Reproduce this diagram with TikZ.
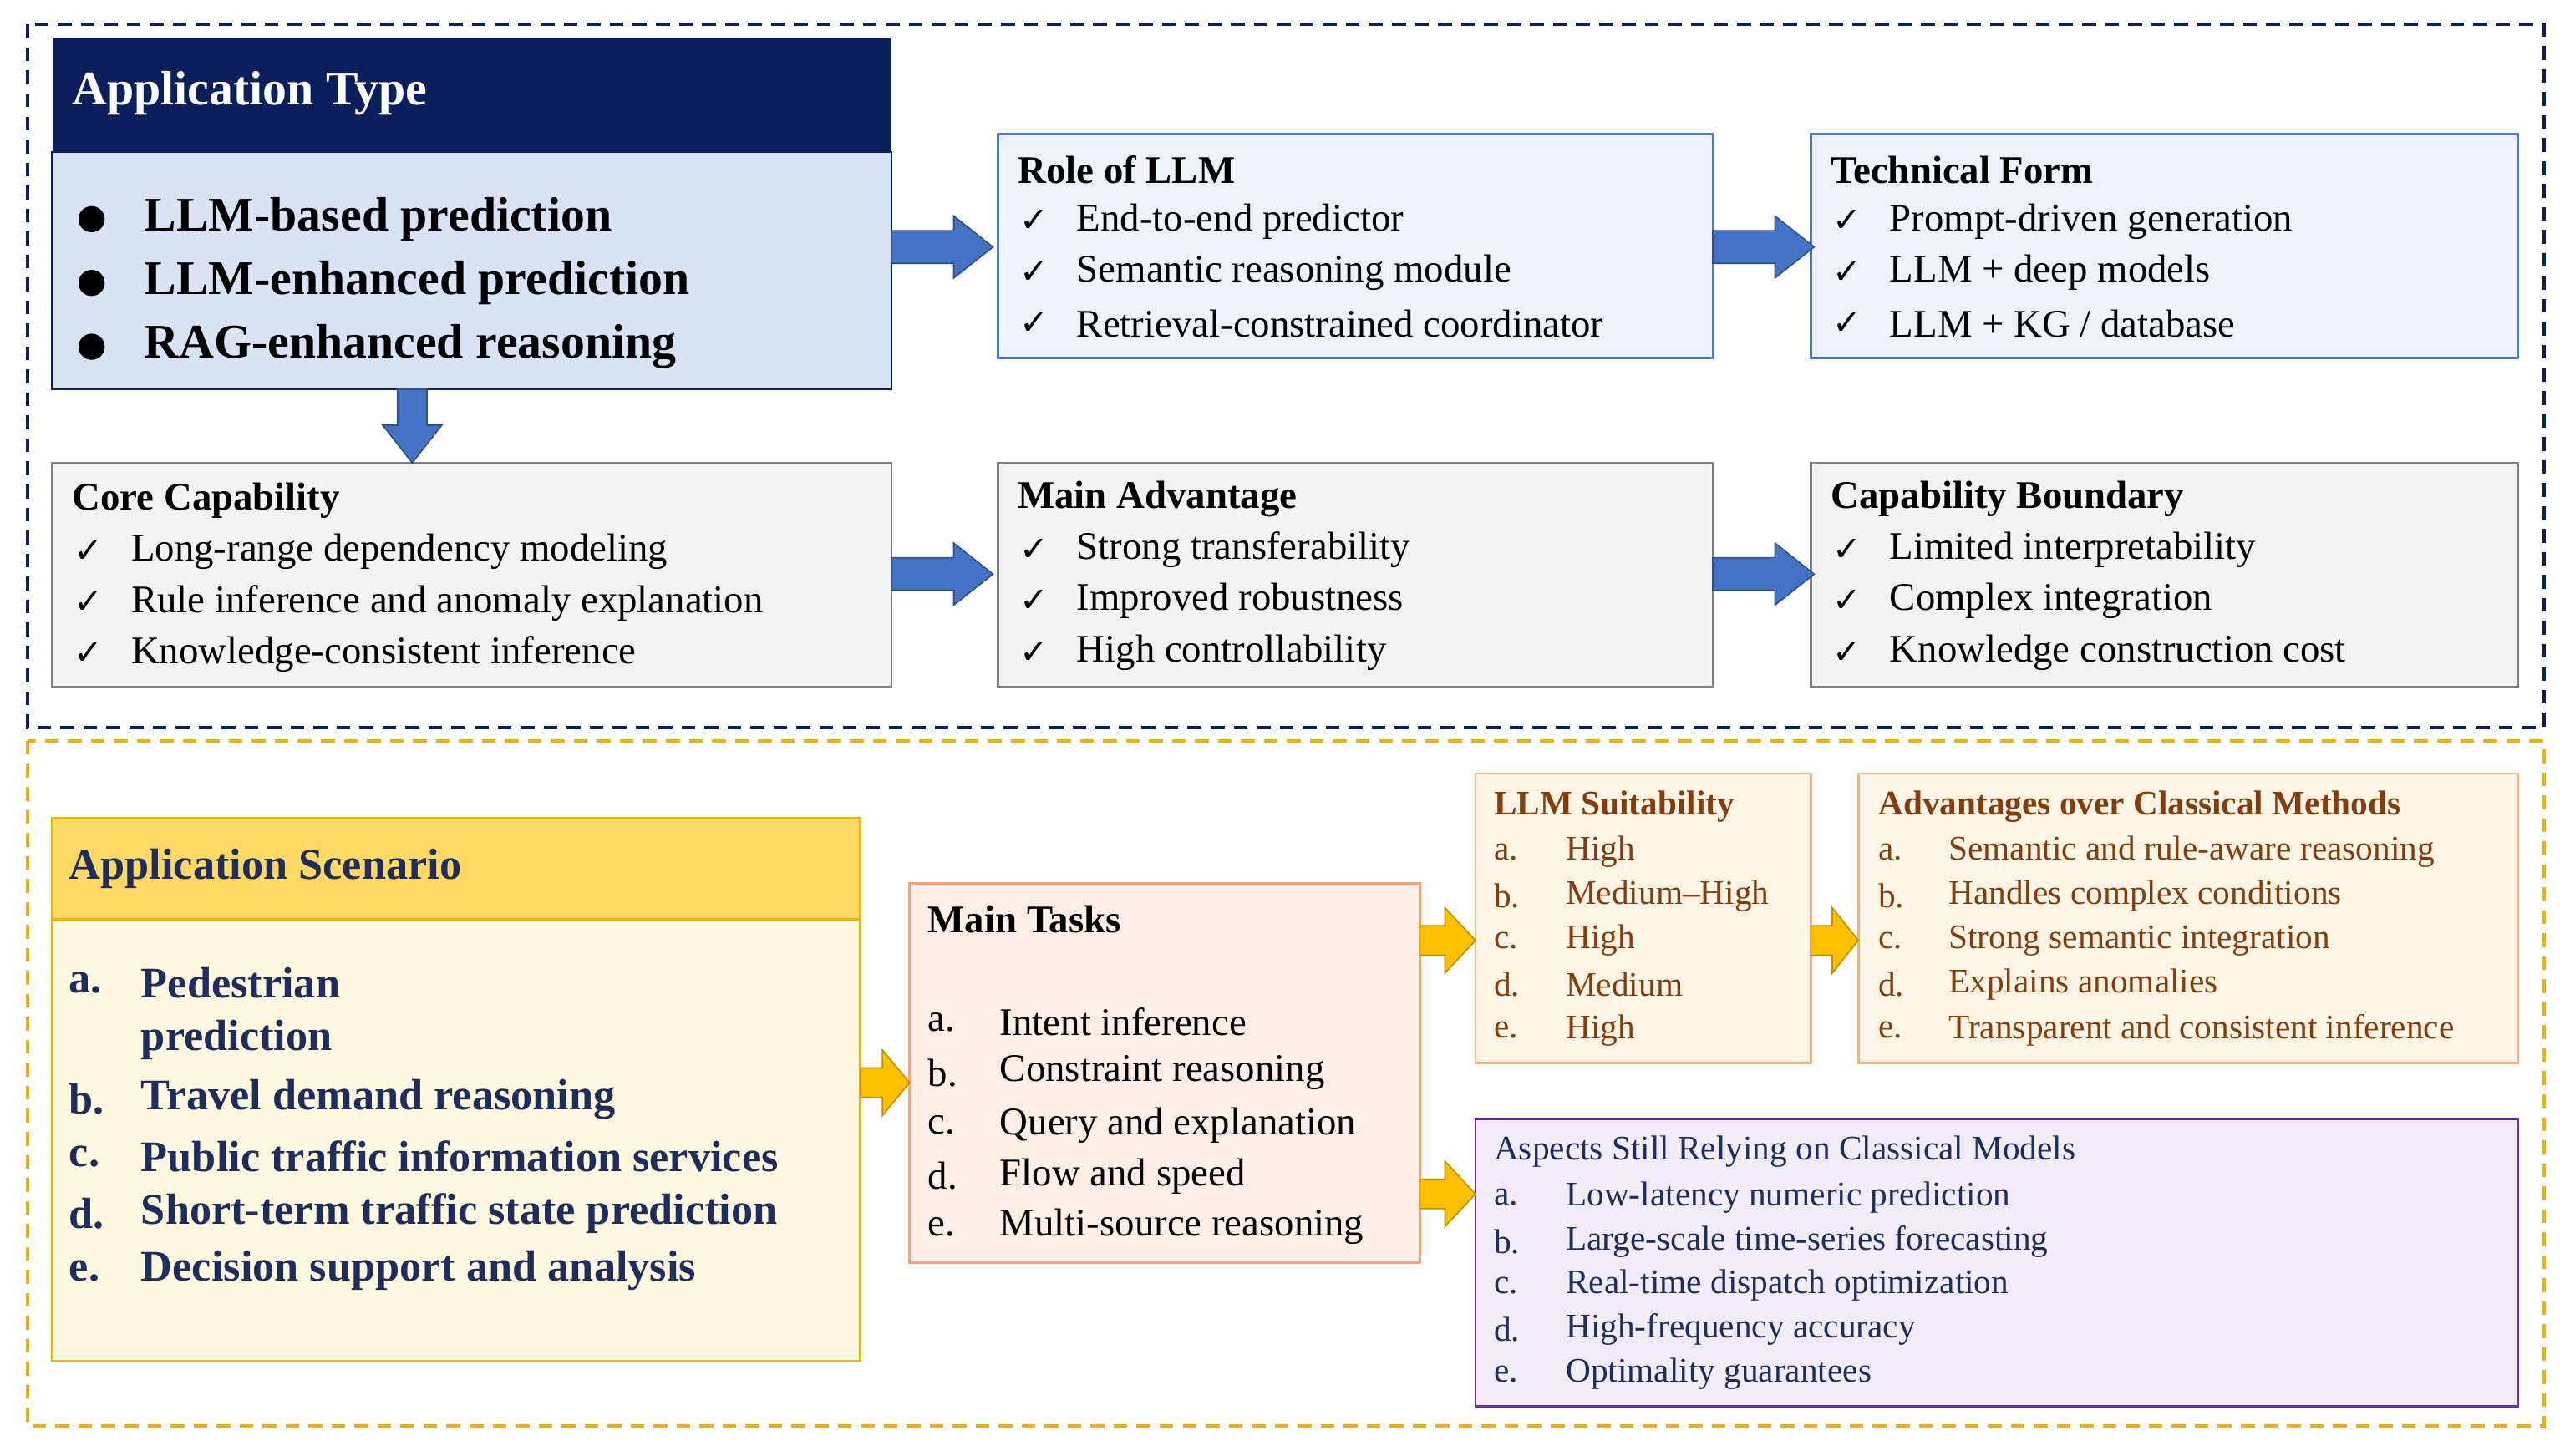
\documentclass[tikz,border=0pt]{standalone}
\usepackage{fontspec}
\setmainfont{Liberation Serif}
\newfontfamily\djv{DejaVu Sans}
\begin{document}
\definecolor{navy}{HTML}{0A1F5C}
\definecolor{lblue}{HTML}{DAE3F3}
\definecolor{pblue}{HTML}{EEF3FB}
\definecolor{bblue}{HTML}{4A7CC9}
\definecolor{arrb}{HTML}{4472C4}
\definecolor{lgray}{HTML}{F2F2F2}
\definecolor{gold}{HTML}{FFD966}
\definecolor{golde}{HTML}{F0B400}
\definecolor{cream}{HTML}{FFF8E1}
\definecolor{peach}{HTML}{FDEEE6}
\definecolor{peache}{HTML}{F4A27A}
\definecolor{lorange}{HTML}{FFF5E6}
\definecolor{orangee}{HTML}{F4B183}
\definecolor{brown}{HTML}{843C0C}
\definecolor{lpurple}{HTML}{F2ECF8}
\definecolor{purple}{HTML}{7030A0}
\definecolor{tnavy}{HTML}{1F2D5C}
\definecolor{ayel}{HTML}{FFC000}
\begin{tikzpicture}[x=0.025cm,y=-0.025cm,
  txt/.style={anchor=west,inner sep=0pt,font=\fontsize{17}{20}\selectfont},
  ttl/.style={txt,font=\fontsize{17}{20}\selectfont\bfseries},
  ck/.style={anchor=west,inner sep=0pt,font=\djv\fontsize{15}{18}\selectfont},
  bar/.style={fill=arrb,draw=arrb!70!black,line width=0.6pt},
  yar/.style={fill=ayel,draw=golde!80!black,line width=0.6pt}]
\useasboundingbox (0,0) rectangle (1568,890);
\fill[white] (0,0) rectangle (1568,890);
\draw[navy,dashed,line width=1.5pt,dash pattern=on 6pt off 4pt] (17,15) rectangle (1555,445);
\draw[golde,dashed,line width=1.5pt,dash pattern=on 6pt off 4pt] (17,453) rectangle (1555,872);
% Application type
\draw[navy,fill=lblue,line width=1pt] (32,93) rectangle (545,238);
\fill[navy] (32,23) rectangle (545,93);
\node[txt,white,font=\fontsize{21}{24}\selectfont\bfseries] (at) at (44,57) {Application Type};
\foreach \y/\t [count=\i] in {134/LLM-based prediction,173/LLM-enhanced prediction,212/RAG-enhanced reasoning}{
  \fill (56,\y) circle (8);
  \node[txt,font=\fontsize{21}{24}\selectfont\bfseries] (b\i) at (88,\y) {\t};}
% generic boxes
\newcommand{\tbox}[9]{% name,x1,y1,x2,y2,fill,draw,title,items
  \draw[#7,fill=#6,line width=1pt] (#2,#3) rectangle (#4,#5);
  \node[ttl] (#1t) at ({#2+12},{#3+22}) {#8};
  \foreach \s [count=\k] in {#9}{
    \node[ck] (#1c\k) at ({#2+13},{#3+22+31.3*\k}) {✓};
    \node[txt] (#1i\k) at ({#2+#2*0+ (#2<100?48:48)},{#3+22+31.3*\k}) {\s};}}
\tbox{r}{610}{82}{1047}{219}{pblue}{bblue}{Role of LLM}{End-to-end predictor,Semantic reasoning module,Retrieval-constrained coordinator}
\tbox{t}{1107}{82}{1539}{219}{pblue}{bblue}{Technical Form}{Prompt-driven generation,LLM + deep models,LLM + KG / database}
\draw[gray,fill=lgray,line width=1pt] (32,283) rectangle (545,420);
\node[ttl] (ct) at (44,306) {Core Capability};
\foreach \s [count=\k] in {Long-range dependency modeling,Rule inference and anomaly explanation,Knowledge-consistent inference}{
  \node[ck] (cc\k) at (45,{306+31.3*\k}) {✓};
  \node[txt] (ci\k) at (80,{306+31.3*\k}) {\s};}
\tbox{m}{610}{283}{1047}{420}{lgray}{gray}{Main Advantage}{Strong transferability,Improved robustness,High controllability}
\tbox{b}{1107}{283}{1539}{420}{lgray}{gray}{Capability Boundary}{Limited interpretability,Complex integration,Knowledge construction cost}
% blue arrows
\foreach \x/\y in {545/151,1047/151,545/351,1047/351}{
  \draw[bar] (\x,\y-10) -- (\x+38,\y-10) -- (\x+38,\y-19) -- (\x+62,\y) -- (\x+38,\y+19) -- (\x+38,\y+10) -- (\x,\y+10) -- cycle;}
\draw[bar] (243,238) -- (243,260) -- (234,260) -- (252,283) -- (270,260) -- (261,260) -- (261,238) -- cycle;
% Application scenario
\draw[golde,fill=cream,line width=1pt] (32,562) rectangle (526,832);
\draw[golde,fill=gold,line width=1pt] (32,500) rectangle (526,562);
\node[txt,tnavy,font=\fontsize{19}{22}\selectfont\bfseries] (st) at (42,531) {Application Scenario};
\foreach \y/\l/\t [count=\i] in {601/a./Pedestrian\,/\,vehicle behavior,672/b./Travel demand reasoning,707/c./Public traffic information services,742/d./Short-term traffic state prediction,777/e./Decision support and analysis}{
  \node[txt,tnavy,font=\fontsize{19}{22}\selectfont\bfseries] (sl\i) at (42,\y) {\l};
  \node[txt,tnavy,font=\fontsize{19}{22}\selectfont\bfseries] (si\i) at (86,\y) {\t};}
\node[txt,tnavy,font=\fontsize{19}{22}\selectfont\bfseries] (si1b) at (86,636) {prediction};
% Main tasks
\draw[peache,fill=peach,line width=1pt] (556,540) rectangle (868,772);
\node[ttl] (mt) at (567,562) {Main Tasks};
\foreach \y/\l/\t [count=\i] in {625/a./Intent inference,656/b./Constraint reasoning,688/c./Query and explanation,719/d./Flow and speed,750/e./Multi-source reasoning}{
  \node[txt] (ml\i) at (567,\y) {\l};
  \node[txt] (mi\i) at (611,\y) {\t};}
% LLM suitability
\draw[orangee,fill=lorange,line width=1pt] (902,473) rectangle (1107,650);
\node[txt,brown,font=\fontsize{15}{18}\selectfont\bfseries] (lt) at (913,493) {LLM Suitability};
\foreach \y/\l/\t [count=\i] in {521/a./High,548/b./Medium–High,575/c./High,602/d./Medium,630/e./High}{
  \node[txt,brown,font=\fontsize{15}{18}\selectfont] (ll\i) at (913,\y) {\l};
  \node[txt,brown,font=\fontsize{15}{18}\selectfont] (li\i) at (957,\y) {\t};}
\draw[orangee,fill=lorange,line width=1pt] (1136,473) rectangle (1539,650);
\node[txt,brown,font=\fontsize{15}{18}\selectfont\bfseries] (avt) at (1148,493) {Advantages over Classical Methods};
\foreach \y/\l/\t [count=\i] in {521/a./Semantic and rule-aware reasoning,548/b./Handles complex conditions,575/c./Strong semantic integration,602/d./Explains anomalies,630/e./Transparent and consistent inference}{
  \node[txt,brown,font=\fontsize{15}{18}\selectfont] (al\i) at (1148,\y) {\l};
  \node[txt,brown,font=\fontsize{15}{18}\selectfont] (ai\i) at (1191,\y) {\t};}
\draw[purple,fill=lpurple,line width=1pt] (902,684) rectangle (1539,860);
\node[txt,tnavy,font=\fontsize{15}{18}\selectfont] (pt) at (913,704) {Aspects Still Relying on Classical Models};
\foreach \y/\l/\t [count=\i] in {732/a./Low-latency numeric prediction,759/b./Large-scale time-series forecasting,786/c./Real-time dispatch optimization,813/d./High-frequency accuracy,840/e./Optimality guarantees}{
  \node[txt,tnavy,font=\fontsize{15}{18}\selectfont] (pl\i) at (913,\y) {\l};
  \node[txt,tnavy,font=\fontsize{15}{18}\selectfont] (pi\i) at (957,\y) {\t};}
% yellow arrows
\foreach \x/\y/\w in {526/662/30,868/575/34,868/730/34,1107/575/29}{
  \draw[yar] (\x,\y-9) -- (\x+\w*0.45,\y-9) -- (\x+\w*0.45,\y-20) -- (\x+\w,\y) -- (\x+\w*0.45,\y+20) -- (\x+\w*0.45,\y+9) -- (\x,\y+9) -- cycle;}
\end{tikzpicture}
\end{document}
